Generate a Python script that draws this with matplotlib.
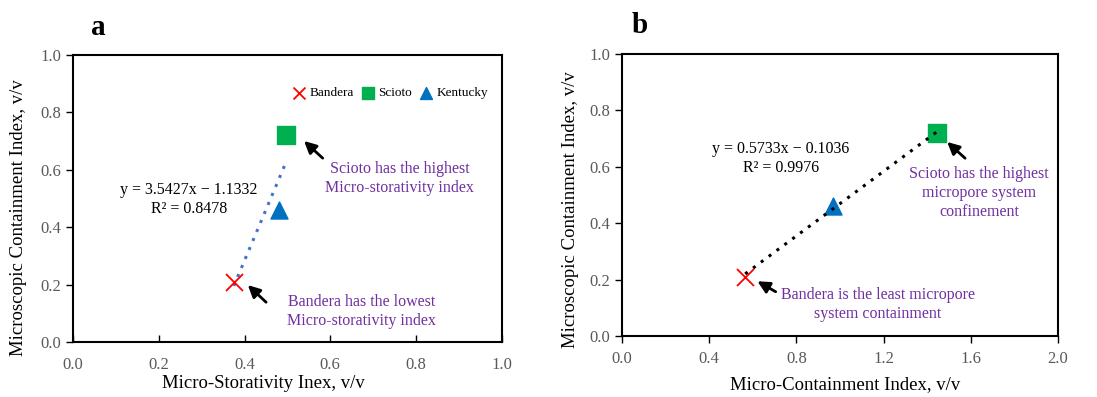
import numpy as np
import matplotlib.pyplot as plt

plt.rcParams['font.family'] = ['Liberation Serif', 'DejaVu Serif']

samples = ['Bandera', 'Scioto', 'Kentucky']
storativity = [0.375, 0.497, 0.48]
containment = [0.565, 1.445, 0.97]
mci = [0.21, 0.72, 0.46]

fit_a = (3.5427, -1.1332)
fit_b = (0.5733, -0.1036)

styles = {
    'Bandera': dict(marker='x', color='#FF0000', s=150, linewidths=1.3),
    'Scioto': dict(marker='s', color='#00B050', s=170),
    'Kentucky': dict(marker='^', color='#0070C0', s=150),
}

purple = '#7030A0'
grey = '#595959'

fig = plt.figure(figsize=(10.97, 3.97), dpi=100)
ax1 = fig.add_axes([0.0665, 0.1385, 0.391, 0.723])
ax2 = fig.add_axes([0.567, 0.1537, 0.3975, 0.710])


def style_axes(ax, xlim, xticks, xdir, xpad):
    ax.set_xlim(*xlim)
    ax.set_ylim(0, 1.0)
    ax.set_xticks(xticks)
    ax.set_yticks(np.arange(0, 1.01, 0.2))
    ax.xaxis.set_major_formatter(plt.FormatStrFormatter('%.1f'))
    ax.yaxis.set_major_formatter(plt.FormatStrFormatter('%.1f'))
    for sp in ax.spines.values():
        sp.set_linewidth(1.5)
        sp.set_color('black')
    ax.tick_params(axis='x', direction=xdir, length=5, width=1, labelsize=12,
                   labelcolor=grey, pad=xpad)
    ax.tick_params(axis='y', direction='out', length=5, width=1, labelsize=12,
                   labelcolor=grey)
    ax.set_ylabel('Microscopic Containment Index, v/v', fontsize=13.5, va='center')


# panel a
xa = np.array([min(storativity), max(storativity)])
ax1.plot(xa, fit_a[0] * xa + fit_a[1], linestyle=(0, (1, 2.2)), color='#4472C4',
         linewidth=2.2, zorder=1)
for name, x, y in zip(samples, storativity, mci):
    ax1.scatter(x, y, label=name, zorder=3, **styles[name])
style_axes(ax1, (0, 1.0), np.arange(0, 1.01, 0.2), 'in', 11)
ax1.set_xlabel('Micro-Storativity Inex, v/v', fontsize=13.5, va='center')
ax1.xaxis.set_label_coords(0.443, -0.143)
ax1.yaxis.set_label_coords(-0.128, 0.432)
ax1.legend(loc='upper right', ncol=3, frameon=False, fontsize=9.5,
           handletextpad=0.3, columnspacing=0.55, handlelength=1.0,
           markerscale=0.7, bbox_to_anchor=(0.995, 0.93))
ax1.text(0.27, 0.495, 'y = 3.5427x − 1.1332\nR² = 0.8478', ha='center', va='center',
         fontsize=11.5, linespacing=1.25)
ax1.text(0.762, 0.57, 'Scioto has the highest\nMicro-storativity index', ha='center',
         va='center', fontsize=11.5, color=purple, linespacing=1.25)
ax1.text(0.673, 0.106, 'Bandera has the lowest\nMicro-storativity index', ha='center',
         va='center', fontsize=11.5, color=purple, linespacing=1.25)
arrow = dict(arrowstyle='-|>', color='black', lw=2, mutation_scale=18)
ax1.annotate('', xy=(0.534, 0.707), xytext=(0.587, 0.634), arrowprops=arrow)
ax1.annotate('', xy=(0.403, 0.205), xytext=(0.455, 0.132), arrowprops=arrow)
fig.text(0.083, 0.93, 'a', fontsize=21, fontweight='bold', va='center')

# panel b
xb = np.array([min(containment), max(containment)])
ax2.plot(xb, fit_b[0] * xb + fit_b[1], linestyle=(0, (1, 2.2)), color='black',
         linewidth=2.2, zorder=4)
for name, x, y in zip(samples, containment, mci):
    ax2.scatter(x, y, zorder=3, **styles[name])
style_axes(ax2, (0, 2.0), np.arange(0, 2.01, 0.4), 'out', 6)
ax2.set_xlabel('Micro-Containment Index, v/v', fontsize=13.5, va='center')
ax2.xaxis.set_label_coords(0.511, -0.174)
ax2.yaxis.set_label_coords(-0.119, 0.447)
ax2.text(0.729, 0.63, 'y = 0.5733x − 0.1036\nR² = 0.9976', ha='center', va='center',
         fontsize=11.5, linespacing=1.25)
ax2.text(1.638, 0.507, 'Scioto has the highest\nmicropore system\nconfinement', ha='center',
         va='center', fontsize=11.5, color=purple, linespacing=1.25)
ax2.text(1.174, 0.112, 'Bandera is the least micropore\nsystem containment', ha='center',
         va='center', fontsize=11.5, color=purple, linespacing=1.25)
ax2.annotate('', xy=(1.482, 0.695), xytext=(1.583, 0.624), arrowprops=arrow)
ax2.annotate('', xy=(0.610, 0.199), xytext=(0.716, 0.152), arrowprops=arrow)
fig.text(0.576, 0.935, 'b', fontsize=21, fontweight='bold', va='center')

fig.savefig('out.png', dpi=100)
